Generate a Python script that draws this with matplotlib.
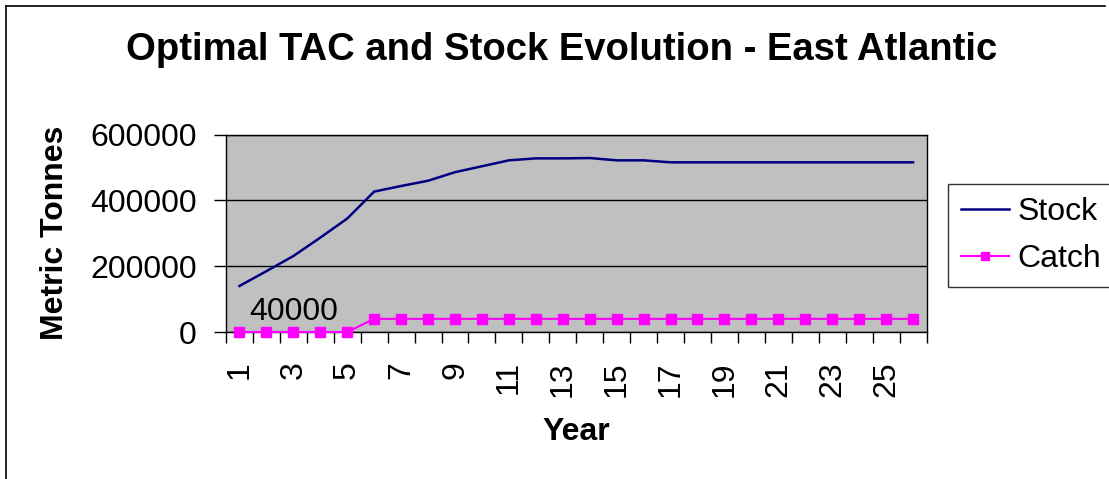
import numpy as np
import matplotlib
matplotlib.use('Agg')
import matplotlib.pyplot as plt
from matplotlib.lines import Line2D

plt.rcParams['font.family'] = ['Liberation Sans', 'DejaVu Sans']

years = list(range(1, 27))
stock = [140000, 185000, 231000, 287000, 345000, 427000, 444000, 460000, 486000, 504000,
         522000, 528000, 528000, 529000, 522000, 522000, 516000, 516000, 516000, 516000,
         516000, 516000, 516000, 516000, 516000, 516000]
catch = [0, 0, 0, 0, 0] + [40000] * 21
tick_years = list(range(1, 27, 2))

W, H = 1109, 479
fig = plt.figure(figsize=(W / 100, H / 100), dpi=100)
ax = fig.add_axes([226 / W, 1 - 332 / H, 700.5 / W, 197.3 / H])
ax.set_facecolor('#C0C0C0')

ax.plot(years, stock, color='#000080', lw=1.8, label='Stock')
ax.plot(years, catch, color='#FF00FF', lw=1.5, marker='s', markersize=7.5, label='Catch',
        clip_on=False, zorder=5)
ax.text(3, 40000 + 22000, '40000', fontsize=23, ha='center', va='center')

ax.set_xlim(0.5, 26.5)
ax.set_ylim(0, 600000)
ax.set_yticks([0, 200000, 400000, 600000])
ax.set_yticklabels(['0', '200000', '400000', '600000'], fontsize=23)
ax.yaxis.grid(True, color='black', lw=1)
ax.set_axisbelow(True)
ax.tick_params(axis='y', length=9, width=1, pad=12)

ax.set_xticks(tick_years)
ax.set_xticklabels([str(y) for y in tick_years], rotation=90, fontsize=23)
ax.set_xticks(np.arange(0.5, 27, 1), minor=True)
ax.tick_params(axis='x', which='major', length=0, pad=21)
ax.tick_params(axis='x', which='minor', length=8, width=1)
for s in ax.spines.values():
    s.set_linewidth(1)

fig.text(562 / W, 1 - 50 / H, 'Optimal TAC and Stock Evolution - East Atlantic',
         fontsize=27.5, fontweight='bold', ha='center', va='center')
fig.text(55 / W, 1 - 233 / H, 'Metric Tonnes', fontsize=23, fontweight='bold',
         rotation=90, ha='center', va='center')
fig.text(576 / W, 1 - 432 / H, 'Year', fontsize=23, fontweight='bold', ha='center', va='center')

leg = fig.legend(loc='upper left', bbox_to_anchor=(948 / W, 1 - 184 / H), fontsize=23,
                 frameon=True, fancybox=False, edgecolor='black', handlelength=1.5,
                 handletextpad=0.28, borderpad=0.4, labelspacing=0.55, borderaxespad=0)
leg.get_frame().set_linewidth(1)
leg.legend_handles[1].set_markersize(6)

# outer chart frame
fig.add_artist(Line2D([6 / W, 6 / W], [0, 1 - 6 / H], color='black', lw=1.2))
fig.add_artist(Line2D([6 / W, 1105 / W], [1 - 6 / H, 1 - 6 / H], color='black', lw=1.2))

fig.savefig('out.png', dpi=100)
